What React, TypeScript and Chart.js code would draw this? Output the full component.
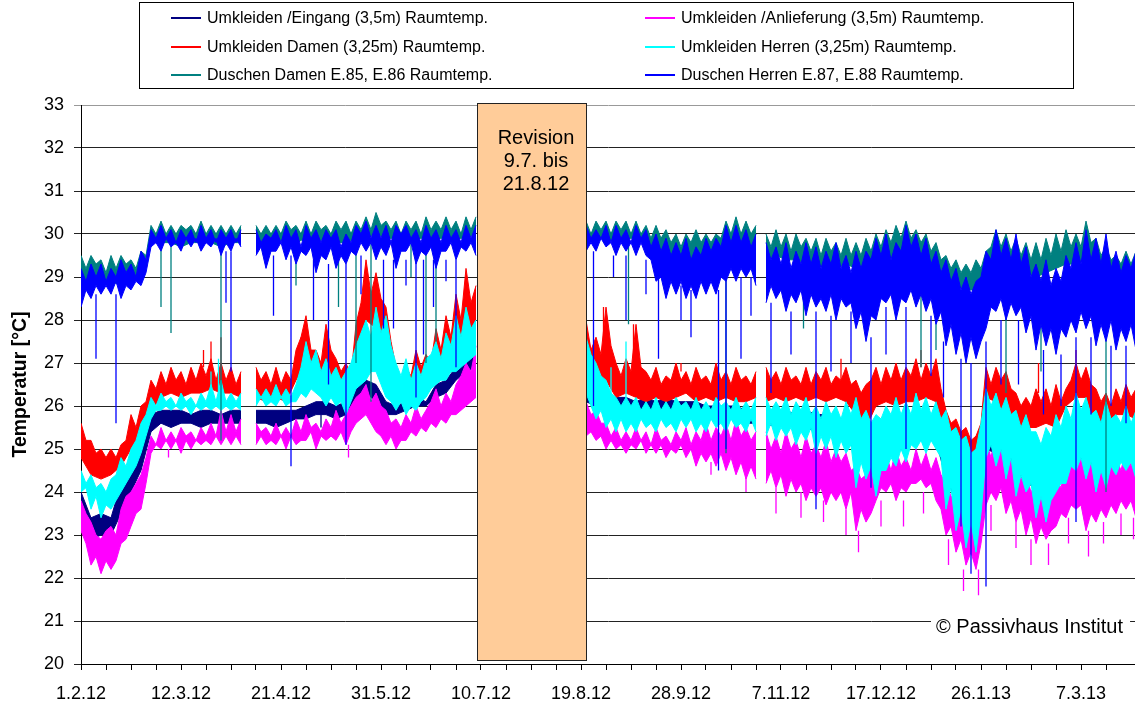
import { useEffect, useRef } from "react";
import { Chart, registerables } from "chart.js";

Chart.register(...registerables);

// ---------- data ----------
// Each series: upper / lower edge of its reading band, sampled every N days
// (N given per array below), in four measured segments, plus single dips/peaks.
const SEGMENT_START_DAYS = [0, 70, 202, 274];
const X_MAX_DAYS = 421.6;
const DATE_LABELS = ["1.2.12", "12.3.12", "21.4.12", "31.5.12", "10.7.12", "19.8.12", "28.9.12", "7.11.12", "17.12.12", "26.1.13", "7.3.13"];
const REVISION_START_DAY = 159;
const REVISION_END_DAY = 202;
const REVISION_TEXT = ["Revision", "9.7. bis", "21.8.12"];
const COPYRIGHT = "© Passivhaus Institut";
const Y_TITLE = "Temperatur [°C]";

const SERIES_LABELS = [
  "Umkleiden /Eingang (3,5m) Raumtemp.",
  "Umkleiden /Anlieferung (3,5m) Raumtemp.",
  "Umkleiden Damen (3,25m) Raumtemp.",
  "Umkleiden Herren (3,25m) Raumtemp.",
  "Duschen Damen E.85, E.86 Raumtemp.",
  "Duschen Herren E.87, E.88 Raumtemp.",
];
const SERIES_COLORS = ["#000080", "#FF00FF", "#FF0000", "#00FFFF", "#008080", "#0000FF"];
const SERIES_ORDER = [5, 4, 3, 2, 1, 0];
const HIGH_STEP_DAYS = [4, 2, 2, 2, 2, 2];
const LOW_STEP_DAYS = [4, 2, 4, 2, 4, 2];

// Umkleiden /Eingang (4-day samples)
const eingangHigh = [
  [24.0,23.4,23.5,23.4,24.2, 24.4,25.0,25.8,25.9,25.9, 25.9,25.8,25.9,25.9,25.8, 25.9,25.9],
  [25.9,25.9,25.9,25.9,25.9, 26.0,26.1,26.1,26.0,26.1, 26.4,26.6,26.5,26.1,26.0, 26.1,26.2,26.1,26.5,26.6, 26.9,27.0,27.2],
  [26.5,26.3,26.2,26.2,26.2, 26.1,26.2,26.1,26.2,26.1, 26.1,26.1,26.0,26.0,26.0, 26.0,25.9,25.9],
  [25.9,25.9,25.9,25.8,25.9, 25.8,25.8,25.7,25.7,25.6, 25.4,25.5,25.5,25.6,25.5, 25.7,25.6,25.6,25.2,24.8, 24.5,24.3,25.6,25.7,25.5, 25.2,25.0,24.8,24.9,25.0, 25.3,25.5,25.5,25.3,25.4, 25.2,25.3,25.2],
];
const eingangLow = [
  [23.6,22.9,23.0,23.0,23.5, 24.0,24.5,25.4,25.6,25.5, 25.6,25.6,25.5,25.6,25.6, 25.6,25.6],
  [25.6,25.6,25.5,25.6,25.7, 25.7,25.8,25.8,25.7,25.8, 26.2,26.3,26.1,25.8,25.8, 25.9,26.0,26.0,26.2,26.3, 26.6,26.8,26.9],
  [26.1,26.0,25.9,25.9,25.9, 25.9,25.8,25.9,25.8,25.9, 25.8,25.8,25.7,25.7,25.7, 25.7,25.6,25.6],
  [25.6,25.5,25.6,25.5,25.5, 25.4,25.4,25.3,25.3,24.9, 24.8,24.9,25.0,25.0,25.1, 25.2,25.2,25.2,24.3,23.8, 23.4,23.3,25.0,24.9,24.7, 24.4,24.3,24.0,24.1,24.4, 24.6,24.8,24.7,24.5,24.6, 24.7,24.8,24.8],
];
const eingangSpikes: number[][] = [[96, 25.8, 25.5], [228, 26.0, 26.3], [246, 26.0, 26.3]];

// Umkleiden /Anlieferung (2-day samples)
const anlieferungHigh = [
  [23.8,23.5,23.3,23.0,22.9,23.1,23.2,23.0,23.6,23.9,24.0,24.2,24.4,24.8,25.3,25.1,25.5,25.2,25.4,25.2,25.5,25.3,25.4,25.2,25.5,25.3,25.6,25.3,25.9,25.4,25.8,25.4,25.7],
  [25.6,25.4,25.5,25.3,25.6,25.3,25.5,25.3,25.7,25.4,25.8,25.5,25.6,25.4,25.7,25.5,25.9,25.6,25.8,26.0,26.2,26.3,26.5,26.1,26.3,26.0,25.9,25.6,25.7,25.5,25.8,25.6,26.0,25.7,25.9,26.1,26.4,26.0,26.3,26.1,26.5,26.7,27.0,26.8,27.4],
  [26.1,25.8,25.9,25.6,25.6,25.3,25.5,25.2,25.4,25.2,25.5,25.2,25.4,25.1,25.5,25.2,25.3,25.1,25.4,25.2,25.5,25.1,25.4,25.2,25.6,25.2,25.5,25.3,25.6,25.2,25.7,25.3,25.5,25.2,25.4],
  [25.4,25.0,25.3,24.9,25.4,25.0,25.2,24.8,25.3,24.9,25.1,24.8,25.2,24.7,25.0,24.7,24.9,24.5,24.6,24.3,24.4,24.7,25.0,24.6,24.9,24.5,25.0,24.6,24.8,24.5,25.0,24.6,24.9,24.5,24.8,24.4,24.2,23.9,23.8,23.5,23.6,23.3,23.5,24.3,25.2,24.8,25.4,24.9,25.1,24.7,24.6,24.3,24.4,24.0,24.2,23.9,24.4,24.0,24.3,24.1,24.6,24.9,25.2,24.7,25.0,24.6,24.8,24.5,25.0,24.6,24.8,24.5,25.0,24.6,24.9],
];
const anlieferungLow = [
  [23.1,22.8,22.3,22.5,22.1,22.4,22.2,22.4,22.8,22.9,23.2,23.5,23.6,24.2,24.9,25.1,25.0,25.2,25.0,25.2,24.9,25.2,25.0,25.2,25.1,25.2,25.1,25.3,25.1,25.3,25.1,25.3,25.1],
  [25.1,25.3,25.1,25.2,25.1,25.3,25.0,25.3,25.1,25.2,25.2,25.4,25.0,25.3,25.2,25.3,25.2,25.4,25.1,25.4,25.6,25.7,25.8,25.6,25.4,25.3,25.1,25.3,25.0,25.2,25.2,25.4,25.3,25.5,25.4,25.6,25.5,25.7,25.6,25.8,25.8,25.9,26.0,26.1,26.2],
  [25.3,25.4,25.2,25.3,25.0,25.2,25.0,25.1,24.9,25.1,25.0,25.2,24.9,25.1,24.9,25.1,24.8,25.0,24.9,25.1,24.8,25.0,24.6,24.9,24.7,24.9,24.6,24.9,24.5,24.8,24.4,24.7,24.3,24.6,24.3],
  [24.2,24.5,24.1,24.4,23.9,24.3,24.0,24.2,23.8,24.1,23.9,24.1,23.7,24.0,23.8,24.0,23.6,24.0,23.1,23.6,23.3,23.5,23.8,24.1,24.0,24.2,23.8,24.1,24.0,24.2,24.2,24.3,24.1,24.2,23.8,23.6,23.0,23.2,22.6,22.9,22.3,22.6,22.2,22.8,23.7,24.0,23.8,24.1,23.5,23.8,23.3,23.6,23.0,23.4,22.8,23.2,22.9,23.1,23.2,23.5,23.4,23.7,23.6,23.7,23.1,23.5,23.3,23.6,23.4,23.7,23.5,23.8,23.6,23.8,23.4],
];
const anlieferungSpikes: number[][] = [
  [35, 25.0, 24.8], [107, 25.1, 24.8], [252, 24.7, 24.4], [266, 24.4, 24.0],
  [278, 24.1, 23.5], [288, 24.0, 23.4], [297, 23.8, 23.3], [306, 23.6, 23.0], [311, 23.1, 22.6],
  [320, 23.8, 23.2], [329, 23.8, 23.2], [337, 24.0, 23.5], [347, 22.9, 22.3], [353, 22.2, 21.7],
  [359, 22.2, 21.6], [364, 23.7, 23.1], [374, 23.3, 22.7], [380, 22.9, 22.3], [387, 22.8, 22.3],
  [395, 23.4, 22.8], [403, 23.1, 22.5], [409, 23.3, 22.8], [416, 23.5, 23.0], [421, 23.4, 22.9],
];

// Umkleiden Damen (upper 2-day, lower 4-day)
const damenHigh = [
  [25.6,25.2,25.2,24.9,25.0,24.8,25.0,24.8,25.1,25.2,25.8,25.5,26.0,26.1,26.6,26.4,26.8,26.5,26.9,26.6,26.8,26.5,26.9,26.6,27.0,26.7,27.1,26.6,27.0,26.6,26.9,26.5,26.8],
  [26.9,26.6,26.8,26.5,26.9,26.5,26.8,26.6,27.3,27.6,28.1,27.3,27.3,27.0,27.9,27.3,27.1,26.8,27.0,26.7,27.9,28.4,29.4,28.6,29.1,28.5,28.3,27.5,26.9,26.6,26.9,26.7,27.3,26.9,27.2,27.0,27.8,27.3,28.1,27.6,28.6,28.0,29.2,28.4,28.8],
  [28.0,27.3,27.6,27.2,28.3,27.4,27.0,26.7,27.1,26.8,27.9,26.9,26.8,26.6,26.9,26.5,26.7,26.6,27.0,26.6,26.8,26.5,26.9,26.6,26.7,26.5,27.0,26.6,26.8,26.5,26.9,26.6,26.7,26.5,26.8],
  [26.9,26.6,26.8,26.5,26.9,26.6,26.7,26.5,26.9,26.5,26.8,26.6,26.9,26.5,26.7,26.6,26.9,26.5,26.6,26.3,26.5,26.6,26.9,26.5,26.9,26.6,27.0,26.6,26.9,26.7,27.1,26.6,27.0,26.7,27.1,26.4,25.9,25.6,25.7,25.4,25.5,25.2,25.3,25.6,26.9,26.5,26.9,26.6,26.8,26.4,26.3,26.0,26.2,26.0,26.4,26.1,26.4,26.0,26.5,26.1,26.4,26.6,27.0,26.6,26.9,26.5,26.4,26.1,26.3,26.0,26.4,26.1,26.5,26.2,26.4],
];
const damenLow = [
  [24.8,24.4,24.3,24.4,24.6, 25.0,25.4,25.9,26.2,26.3, 26.2,26.3,26.3,26.4,26.3, 26.3,26.2],
  [26.2,26.1,26.2,26.1,26.6, 27.0,26.5,26.8,26.3,26.2, 27.2,28.0,27.8,26.6,26.2, 26.4,26.5,26.6,26.9,27.1, 27.5,27.6,27.8],
  [26.8,26.5,26.6,26.2,26.3, 26.2,26.1,26.2,26.1,26.2, 26.3,26.1,26.2,26.1,26.2, 26.1,26.1,26.2],
  [26.1,26.2,26.1,26.2,26.1, 26.2,26.1,26.2,26.1,25.8, 25.5,26.0,26.1,26.0,26.1, 26.1,26.2,26.1,25.0,24.9, 24.4,24.4,26.2,26.1,25.6, 25.4,25.5,25.5,25.6,25.5, 26.0,26.2,26.2,25.4,25.4, 25.8,25.8,25.7],
];
const damenSpikes: number[][] = [
  [49, 26.9, 27.3], [52, 26.9, 27.5], [56, 26.9, 27.6], [88, 27.0, 27.6], [209, 27.5, 28.3],
  [221, 26.8, 27.9], [240, 26.8, 27.0], [304, 26.6, 27.1], [336, 26.9, 27.3], [383, 26.3, 27.0], [398, 26.8, 27.3],
];

// Umkleiden Herren (2-day samples)
const herrenHigh = [
  [24.5,24.2,24.4,24.1,24.2,24.0,24.3,24.4,24.8,24.6,25.0,25.2,25.6,25.8,26.2,26.0,26.3,26.1,26.2,26.0,26.3,26.1,26.2,26.0,26.3,26.1,26.5,26.1,26.6,26.1,26.3,26.1,26.3],
  [26.4,26.2,26.4,26.2,26.5,26.2,26.4,26.2,26.5,26.9,27.5,27.0,27.3,26.8,27.1,26.7,26.9,26.6,26.8,27.0,27.4,27.7,28.0,27.6,28.3,27.7,28.1,27.4,27.0,26.7,27.1,26.6,27.0,26.7,27.1,27.2,27.5,27.1,27.7,27.4,28.1,27.6,28.3,27.8,28.0],
  [27.6,27.2,27.0,26.7,26.6,26.3,26.2,26.0,26.2,26.0,26.2,25.9,26.1,25.9,26.2,25.9,26.1,25.9,26.2,26.0,26.1,25.9,26.2,25.9,26.1,25.9,26.2,26.0,26.1,25.9,26.2,25.9,26.1,25.9,26.2],
  [26.2,25.9,26.1,25.9,26.2,25.8,26.1,25.9,26.2,25.8,26.0,25.7,26.1,25.8,26.0,25.7,26.1,25.8,26.2,25.7,25.9,25.6,25.8,25.7,26.0,25.8,26.2,25.8,26.1,25.8,26.3,25.9,26.2,25.8,26.1,25.7,25.9,25.4,25.5,25.2,25.3,24.9,25.0,25.6,26.4,26.0,26.3,25.9,26.2,25.8,25.9,25.5,25.8,25.4,25.4,25.1,25.5,25.3,25.8,25.5,26.0,25.7,26.3,25.9,26.2,25.8,25.9,25.6,26.1,25.7,25.8,25.6,26.0,25.6,25.9],
];
const herrenLow = [
  [24.0,24.1,23.6,23.9,23.4,23.7,23.6,23.8,24.0,24.2,24.4,24.6,24.9,25.3,25.7,25.9,25.9,26.0,25.9,26.0,25.9,26.0,25.8,26.0,25.9,26.0,25.9,26.0,25.9,26.0,25.9,26.0,25.9],
  [26.0,26.2,26.0,26.1,26.0,26.2,26.0,26.1,26.1,26.3,26.2,26.4,26.3,26.2,26.0,26.2,26.0,26.1,25.8,26.1,26.4,26.5,26.6,26.8,26.8,26.5,26.2,26.1,25.9,26.1,25.8,26.0,25.9,26.1,26.2,26.4,26.5,26.6,26.6,26.8,26.8,26.9,27.0,27.1,27.2],
  [26.3,26.0,25.7,25.9,25.5,25.7,25.4,25.7,25.4,25.6,25.4,25.7,25.5,25.6,25.4,25.7,25.5,25.6,25.4,25.7,25.5,25.7,25.4,25.6,25.4,25.7,25.5,25.6,25.4,25.7,25.5,25.6,25.4,25.7,25.4],
  [25.3,25.6,25.2,25.5,25.3,25.5,25.1,25.4,25.2,25.5,24.9,25.3,25.0,25.3,24.8,25.2,24.9,25.1,24.1,24.7,24.3,24.6,23.9,24.5,24.5,24.8,24.6,25.0,24.7,25.1,25.0,25.2,24.9,25.2,25.0,24.8,23.6,24.1,23.1,23.6,22.7,23.3,22.6,23.5,24.8,25.1,24.6,25.0,24.3,24.8,23.9,24.4,24.0,24.2,23.4,23.9,23.3,23.8,24.0,24.2,24.2,24.6,24.5,24.8,24.3,24.7,24.0,24.5,24.1,24.6,24.4,24.7,24.5,24.7,24.3],
];
const herrenSpikes: number[][] = [[52, 26.3, 26.8], [55, 26.3, 27.1], [212, 26.2, 26.9], [218, 26.1, 27.5]];

// Duschen Damen (upper 2-day, lower 4-day)
const duschenDamenHigh = [
  [29.5,29.2,29.5,29.3,29.4,29.1,29.5,29.2,29.5,29.3,29.4,29.2,29.6,29.5,30.2,30.0,30.3,30.0,30.2,30.0,30.2,30.1,30.2,30.0,30.3,30.0,30.2,30.0,30.2,30.0,30.2,30.0,30.2],
  [30.2,30.0,30.2,30.0,30.2,30.0,30.3,30.1,30.2,30.0,30.3,30.0,30.3,30.1,30.2,30.0,30.3,30.1,30.3,30.0,30.3,30.1,30.4,30.1,30.5,30.2,30.3,30.1,30.3,30.0,30.3,30.1,30.3,30.0,30.4,30.1,30.3,30.1,30.4,30.1,30.3,30.0,30.4,30.1,30.4],
  [30.3,30.0,30.3,30.1,30.3,30.0,30.3,30.1,30.3,30.0,30.3,30.0,30.2,29.9,30.2,29.9,30.1,29.8,30.0,29.7,30.0,29.8,30.1,29.8,30.0,29.8,30.0,29.9,30.3,30.0,30.4,30.0,30.3,30.0,30.2],
  [30.0,29.7,30.1,29.7,30.0,29.6,30.0,29.7,29.9,29.6,29.9,29.5,29.9,29.6,29.8,29.5,29.9,29.5,29.8,29.5,29.9,29.6,30.0,29.7,30.1,29.8,30.2,29.9,30.3,29.9,30.1,29.8,30.0,29.6,29.8,29.4,29.5,29.2,29.4,29.1,29.3,29.1,29.4,29.2,29.6,29.7,30.1,29.7,30.0,29.6,29.9,29.5,29.8,29.4,29.8,29.4,29.9,29.5,30.0,29.6,30.1,29.7,30.0,29.7,30.3,29.8,29.9,29.5,29.7,29.4,29.5,29.3,29.6,29.3,29.6],
];
const duschenDamenLow = [
  [28.8,28.9,28.8,28.9,28.8, 28.9,29.1,29.8,29.8,29.8, 29.7,29.8,29.8,29.8,29.7, 29.8,29.8],
  [29.8,29.8,29.8,29.9,29.8, 29.9,29.8,29.9,29.8,29.8, 29.9,29.9,30.0,29.9,29.9, 29.8,29.9,29.9,29.9,29.9, 29.9,29.9,30.0],
  [29.9,29.9,29.9,29.8,29.9, 29.9,29.8,29.6,29.4,29.3, 29.3,29.2,29.3,29.3,29.5, 29.6,29.7,29.5],
  [29.4,29.5,29.4,29.4,29.3, 29.3,29.2,29.2,29.3,29.2, 29.1,29.3,29.4,29.5,29.6, 29.5,29.4,29.2,28.9,28.8, 28.7,28.7,28.9,29.4,29.3, 29.2,29.1,29.0,29.1,29.2, 29.3,29.3,29.4,29.2,29.0, 28.9,28.9,28.9],
];
const duschenDamenSpikes: number[][] = [
  [32, 29.8, 28.3], [36, 29.8, 27.7], [56, 29.8, 25.2], [86, 29.8, 28.8], [103, 29.8, 28.3],
  [110, 29.8, 27.0], [116, 29.9, 26.1], [132, 29.9, 29.0], [138, 29.9, 27.0], [142, 29.9, 27.5],
  [219, 29.8, 27.9], [258, 29.5, 24.9], [289, 29.3, 27.8], [336, 29.4, 26.9], [342, 29.2, 27.3],
  [370, 29.3, 26.3], [384, 29.0, 26.8], [410, 29.0, 24.0],
];

// Duschen Herren (2-day samples)
const duschenHerrenHigh = [
  [29.2,28.9,29.3,29.0,29.3,28.9,29.2,29.0,29.4,29.1,29.3,29.0,29.6,29.4,30.1,29.9,30.2,29.9,30.1,29.8,30.1,29.9,30.1,29.8,30.2,29.9,30.1,29.8,30.1,29.9,30.1,29.8,30.1],
  [30.1,29.8,30.0,29.9,30.1,29.8,30.2,29.9,30.1,29.7,30.2,29.9,30.1,29.8,30.1,29.9,30.1,29.7,30.0,29.8,30.2,30.0,30.3,29.9,30.2,29.9,30.2,29.8,30.2,30.0,30.2,29.9,30.1,29.8,30.2,29.9,30.1,29.8,30.2,29.9,30.1,29.8,30.2,29.9,30.2],
  [30.2,29.9,30.1,29.9,30.2,29.8,30.2,29.9,30.1,29.8,30.2,29.9,30.1,29.7,30.0,29.6,29.9,29.5,29.8,29.5,29.9,29.4,29.7,29.5,29.9,29.6,29.9,29.7,30.2,29.8,30.2,29.8,30.1,29.7,30.0],
  [29.8,29.4,29.7,29.3,29.8,29.2,29.6,29.3,29.8,29.3,29.7,29.2,29.6,29.3,29.8,29.2,29.5,29.1,29.6,29.2,29.6,29.4,29.9,29.5,30.0,29.4,29.8,29.6,30.2,29.7,30.0,29.5,29.9,29.3,29.6,29.1,29.4,28.9,29.2,28.7,29.0,28.6,28.9,29.0,29.6,29.4,30.1,29.5,29.9,29.4,30.0,29.3,29.7,29.0,29.3,28.9,29.4,28.8,29.2,28.9,29.5,29.2,29.8,29.3,30.1,29.4,29.9,29.3,30.0,29.2,29.6,29.1,29.5,29.2,29.6],
];
const duschenHerrenLow = [
  [28.3,28.7,28.5,28.8,28.6,28.8,28.6,28.9,28.5,28.8,28.7,28.9,28.8,29.1,29.7,29.8,29.6,29.9,29.7,29.8,29.6,29.9,29.7,29.9,29.6,29.8,29.7,29.9,29.5,29.8,29.6,29.9,29.7],
  [29.5,29.7,29.2,29.6,29.6,29.8,29.4,29.7,29.3,29.6,29.5,29.7,29.1,29.5,29.4,29.7,29.2,29.5,29.3,29.6,29.5,29.8,29.6,29.8,29.4,29.7,29.5,29.8,29.2,29.6,29.6,29.8,29.3,29.6,29.5,29.7,29.2,29.6,29.6,29.8,29.4,29.7,29.6,29.8,29.5],
  [29.6,29.8,29.6,29.9,29.7,29.8,29.5,29.8,29.6,29.8,29.5,29.8,29.5,29.4,28.9,29.0,28.5,28.9,28.6,28.9,28.5,28.8,28.5,28.9,28.6,28.9,28.6,29.0,28.9,29.2,28.9,29.2,29.0,29.2,28.8],
  [28.4,28.8,28.5,28.7,28.2,28.6,28.4,28.7,28.1,28.6,28.3,28.5,28.2,28.6,28.0,28.5,28.3,28.4,27.8,28.2,27.5,28.1,28.0,28.5,28.4,28.6,28.0,28.5,28.4,28.7,28.3,28.6,28.2,28.5,27.9,28.2,27.4,27.9,27.2,27.7,27.0,27.6,27.1,27.5,27.8,28.3,28.2,28.5,28.0,28.4,28.1,28.3,27.7,28.1,27.3,27.9,27.4,27.8,27.2,27.8,27.6,28.0,27.7,28.2,27.8,28.1,27.4,27.9,27.5,28.0,27.3,27.8,27.5,27.9,27.3],
];
const duschenHerrenSpikes: number[][] = [
  [6, 28.6, 27.1], [14, 28.6, 25.6], [58, 29.6, 28.4], [60, 29.6, 26.8], [77, 29.5, 28.1],
  [84, 29.5, 24.6], [93, 29.4, 28.0], [99, 29.3, 26.5], [106, 29.3, 25.1], [112, 29.5, 28.6],
  [121, 29.4, 27.8], [125, 29.4, 27.8], [130, 29.4, 28.8], [134, 29.4, 26.2], [137, 29.4, 27.2],
  [141, 29.4, 28.3], [146, 29.4, 28.9], [150, 29.4, 26.9], [205, 29.6, 26.0], [213, 29.5, 29.0],
  [218, 29.5, 28.0], [226, 29.4, 28.6], [231, 29.0, 27.1], [240, 28.8, 28.0], [244, 28.7, 27.6],
  [255, 28.7, 24.5], [258, 29.0, 25.0], [264, 29.0, 27.1], [268, 29.0, 28.1], [276, 28.4, 26.3],
  [284, 28.2, 27.2], [294, 28.2, 23.6], [300, 28.1, 26.8], [308, 28.2, 27.0], [316, 27.6, 24.1],
  [322, 28.3, 27.2], [330, 28.3, 25.0], [340, 28.1, 26.7], [345, 27.5, 26.2], [352, 27.1, 23.2],
  [356, 27.0, 22.1], [362, 27.5, 21.8], [368, 28.0, 26.5], [375, 28.0, 26.5], [385, 27.3, 25.8],
  [392, 27.2, 26.0], [398, 27.6, 23.3], [404, 27.6, 25.8], [412, 27.4, 26.0], [418, 27.4, 25.6],
];

const SERIES_HIGH = [eingangHigh, anlieferungHigh, damenHigh, herrenHigh, duschenDamenHigh, duschenHerrenHigh];
const SERIES_LOW = [eingangLow, anlieferungLow, damenLow, herrenLow, duschenDamenLow, duschenHerrenLow];
const SERIES_SPIKES = [eingangSpikes, anlieferungSpikes, damenSpikes, herrenSpikes, duschenDamenSpikes, duschenHerrenSpikes];

// ---------- helpers ----------
const FONT = "'Liberation Sans', Arial, Helvetica, sans-serif";

function bandPoints(segments: number[][], step: number) {
  const pts: { x: number; y: number | null }[] = [];
  segments.forEach((seg, s) => {
    if (s > 0) pts.push({ x: SEGMENT_START_DAYS[s] - 1, y: null });
    seg.forEach((v, j) => pts.push({ x: SEGMENT_START_DAYS[s] + j * step, y: v }));
  });
  return pts;
}

function spikePoints(spikes: number[][]) {
  const pts: { x: number; y: number | null }[] = [];
  spikes.forEach(([d, from, to]) => {
    pts.push({ x: d, y: from }, { x: d, y: to }, { x: d + 0.01, y: null });
  });
  return pts;
}

const decorPlugin = {
  id: "decor",
  afterDatasetsDraw(chart: any) {
    const { ctx, scales } = chart;
    const xs = scales.x;
    const ys = scales.y;
    ctx.save();
    // revision box
    const x0 = Math.round(xs.getPixelForValue(REVISION_START_DAY)) - 1.5;
    const x1 = Math.round(xs.getPixelForValue(REVISION_END_DAY)) + 0.5;
    const y0 = Math.round(ys.getPixelForValue(33)) - 1.5;
    const y1 = Math.round(ys.getPixelForValue(20.1)) + 0.5;
    ctx.fillStyle = "#FFCC99";
    ctx.fillRect(x0, y0, x1 - x0, y1 - y0);
    ctx.strokeStyle = "#222";
    ctx.lineWidth = 1;
    ctx.strokeRect(x0, y0, x1 - x0, y1 - y0);
    ctx.fillStyle = "#000";
    ctx.font = `20px ${FONT}`;
    ctx.textAlign = "center";
    ctx.textBaseline = "middle";
    const cx = (x0 + x1) / 2 + 4;
    REVISION_TEXT.forEach((t, i) => ctx.fillText(t, cx, y0 + 35 + i * 23));
    // copyright
    const cyPix = ys.getPixelForValue(21) + 5;
    ctx.textAlign = "left";
    const w = ctx.measureText(COPYRIGHT).width;
    ctx.fillStyle = "#fff";
    ctx.fillRect(931, cyPix - 11, w + 12, 22);
    ctx.fillStyle = "#000";
    ctx.fillText(COPYRIGHT, 936, cyPix + 1);
    ctx.restore();
  },
  afterDraw(chart: any) {
    const { ctx, chartArea } = chart;
    ctx.save();
    // y title
    ctx.translate(21, (chartArea.top + chartArea.bottom) / 2);
    ctx.rotate(-Math.PI / 2);
    ctx.font = `bold 19.5px ${FONT}`;
    ctx.fillStyle = "#000";
    ctx.textAlign = "center";
    ctx.textBaseline = "middle";
    ctx.fillText(Y_TITLE, 0, 0);
    ctx.restore();

    // legend
    ctx.save();
    ctx.strokeStyle = "#000";
    ctx.lineWidth = 1;
    ctx.fillStyle = "#fff";
    ctx.fillRect(139.5, 2.5, 934, 86);
    ctx.strokeRect(139.5, 2.5, 934, 86);
    ctx.font = `16px ${FONT}`;
    ctx.textAlign = "left";
    ctx.textBaseline = "middle";
    const colX = [171, 645];
    const rowY = [18, 47, 75];
    SERIES_LABELS.forEach((label, i) => {
      const cx = colX[i % 2];
      const cy = rowY[Math.floor(i / 2)];
      ctx.strokeStyle = SERIES_COLORS[i];
      ctx.lineWidth = 2;
      ctx.beginPath();
      ctx.moveTo(cx, cy);
      ctx.lineTo(cx + 30, cy);
      ctx.stroke();
      ctx.fillStyle = "#000";
      ctx.fillText(label, cx + 36, cy + 1);
    });
    ctx.restore();
  },
};

export default function App() {
  const canvasRef = useRef<HTMLCanvasElement | null>(null);

  useEffect(() => {
    const canvas = canvasRef.current;
    if (!canvas) return;
    Chart.defaults.font.family = FONT;
    const datasets: any[] = [];
    SERIES_LABELS.forEach((label, k) => {
      const color = SERIES_COLORS[k];
      const common = {
        borderColor: color,
        backgroundColor: color,
        pointRadius: 0,
        tension: 0,
        spanGaps: false,
        order: SERIES_ORDER[k],
      };
      datasets.push({ ...common, label, data: bandPoints(SERIES_HIGH[k], HIGH_STEP_DAYS[k]), borderWidth: 1, fill: "+1" });
      datasets.push({ ...common, label: label + " (min)", data: bandPoints(SERIES_LOW[k], LOW_STEP_DAYS[k]), borderWidth: 1, fill: false });
      datasets.push({ ...common, label: label + " (spikes)", data: spikePoints(SERIES_SPIKES[k]), borderWidth: 1.3, fill: false });
    });

    const chart = new Chart(canvas, {
      type: "line",
      data: { datasets },
      options: {
        animation: false,
        responsive: false,
        events: [],
        layout: { padding: { top: 105, left: 0, right: 0, bottom: 0 } },
        plugins: { legend: { display: false }, tooltip: { enabled: false } },
        scales: {
          x: {
            type: "linear",
            min: 0,
            max: X_MAX_DAYS,
            afterFit: (s: any) => {
              s.height = 41;
              s.paddingLeft = 0;
              s.paddingRight = 0;
            },
            grid: { drawOnChartArea: false, drawTicks: true, tickLength: 6, color: "#000" },
            border: { color: "#000", width: 1 },
            ticks: {
              stepSize: 10,
              autoSkip: false,
              maxRotation: 0,
              color: "#000",
              font: { size: 18 },
              padding: 13,
              callback: (v: any) => {
                const n = Number(v);
                return n % 40 === 0 && DATE_LABELS[n / 40] ? DATE_LABELS[n / 40] : "";
              },
            },
          },
          y: {
            min: 20,
            max: 33,
            afterFit: (s: any) => {
              s.width = 81;
              s.paddingTop = 0;
              s.paddingBottom = 0;
            },
            grid: {
              color: (c: any) => (c.tick && c.tick.value === 33 ? "#999" : "#222"),
              tickLength: 7,
              drawTicks: true,
            },
            border: { color: "#000", width: 1 },
            ticks: { stepSize: 1, color: "#000", font: { size: 18 }, padding: 10 },
          },
        },
      },
      plugins: [decorPlugin],
    } as any);
    return () => chart.destroy();
  }, []);

  return (
    <div style={{ position: "absolute", left: 0, top: 0, width: 1135, height: 705, background: "#fff" }}>
      <canvas ref={canvasRef} width={1135} height={705} style={{ display: "block", width: 1135, height: 705 }} />
    </div>
  );
}
